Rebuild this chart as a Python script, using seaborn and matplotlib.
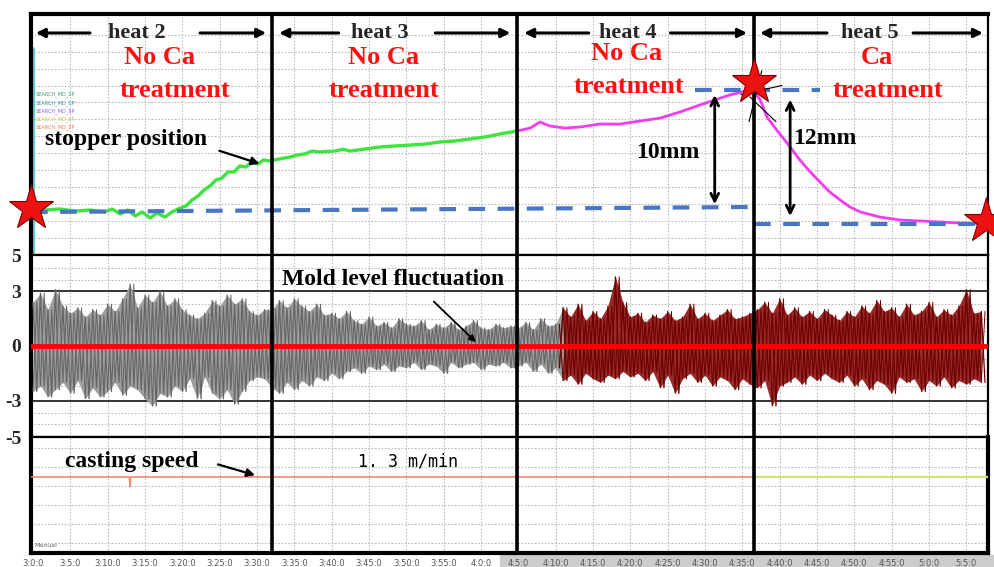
import numpy as np
import pandas as pd
import seaborn as sns
import matplotlib.pyplot as plt
from matplotlib.patches import Rectangle

# time axis: minutes after 3:00
heat_bounds = [32.0, 64.8, 96.6]
heat_names = ['heat 2', 'heat 3', 'heat 4', 'heat 5']
treat_line1 = ['No Ca', 'No Ca', 'No Ca', 'Ca']
treat_line2 = ['treatment'] * 4

# stopper position (mm), heats 2-3 (green) and heats 4-5 (magenta)
stop_t_a = [-0.3, 1.6, 3.6, 5.6, 7.6, 9.6, 10.6, 11.7, 12.7, 13.7, 14.6, 15.7, 16.6, 17.7,
            18.6, 19.7, 20.5, 21.3, 22.1, 22.9, 23.7, 24.5, 25.3, 26.1, 26.9, 27.7, 28.5,
            29.3, 30.1, 30.9, 31.7, 33.0, 34.4, 35.4, 36.4, 37.4, 38.4, 40.4, 41.5, 42.5,
            44.5, 46.5, 48.5, 50.5, 52.5, 54.5, 56.5, 58.5, 60.5, 62.5, 64.8]
stop_mm_a = [4.16, 3.98, 4.07, 3.89, 3.98, 3.81, 4.07, 3.63, 3.98, 3.45, 3.81, 3.27, 3.72, 3.36,
             3.81, 4.16, 4.34, 4.87, 5.22, 5.75, 6.11, 6.64, 6.81, 7.35, 7.35, 7.88, 7.79,
             8.23, 8.05, 8.41, 8.32, 8.50, 8.67, 8.85, 8.94, 9.20, 9.12, 9.20, 9.35, 9.20,
             9.38, 9.56, 9.65, 9.73, 9.82, 10.0, 10.09, 10.27, 10.44, 10.71, 10.97]
stop_t_b = [64.8, 66.6, 67.9, 69.2, 71.2, 73.3, 75.9, 78.6, 81.3, 84.0, 86.6, 89.3, 91.3, 93.3,
            95.4, 96.4, 97.4, 98.3, 99.6, 101.0, 102.7, 104.1, 105.4, 106.7, 108.1, 109.4,
            110.8, 113.4, 116.1, 118.8, 121.5, 124.1, 127.9]
stop_mm_b = [10.97, 11.24, 11.77, 11.42, 11.24, 11.33, 11.59, 11.59, 11.86, 12.12, 12.65, 13.27,
             13.72, 14.16, 14.51, 14.60, 13.72, 12.21, 11.06, 9.91, 8.41, 7.35, 6.46, 5.58,
             4.87, 4.25, 3.81, 3.36, 3.10, 3.01, 2.92, 2.83, 2.74]

# mold level fluctuation envelope (mm), one sample per minute from 3:00
mold_hi = [2.4, 2.9, 2.0, 3.1, 2.2, 1.8, 2.1, 1.6, 2.0, 1.7, 2.3, 1.9, 2.6, 3.4, 2.1, 2.8,
           2.4, 3.0, 2.2, 2.6, 2.0, 1.7, 1.5, 1.8, 2.5, 2.2, 2.8, 2.3, 2.6, 1.9, 1.7, 2.0,
           2.0, 2.5, 2.1, 2.6, 2.2, 1.9, 2.3, 1.7, 1.8, 1.5, 1.9, 1.4, 1.2, 1.6, 1.1, 1.3,
           1.0, 1.5, 1.2, 1.1, 1.4, 0.9, 1.2, 1.0, 1.3, 0.9, 1.1, 1.4, 1.0, 0.9, 1.2, 1.0,
           1.1, 1.0, 1.3, 0.9, 1.5, 1.1, 1.2, 2.1, 1.6, 2.3, 1.4, 1.9, 1.5, 2.2, 3.8, 2.4,
           1.6, 1.8, 1.3, 1.7, 1.5, 1.9, 1.4, 1.6, 2.3, 1.5, 1.8, 1.4, 1.7, 2.0, 1.5, 1.6,
           1.8, 2.0, 2.4, 1.8, 2.6, 1.7, 2.1, 1.6, 1.9, 1.5, 2.0, 1.7, 1.4, 1.9, 1.6, 2.2,
           1.8, 2.5, 1.9, 2.1, 1.6, 2.3, 1.7, 1.9, 2.4, 1.6, 2.0, 1.7, 2.2, 3.1, 1.8, 1.9]
mold_lo = [-2.5, -2.2, -2.8, -2.4, -2.0, -2.6, -1.9, -2.9, -2.3, -2.8, -2.5, -2.0, -2.7, -2.2,
           -2.4, -2.9, -3.3, -2.6, -2.8, -2.2, -2.5, -1.8, -2.9, -1.7, -2.6, -2.9, -2.4, -3.2,
           -2.5, -1.9, -1.7, -1.8, -2.3, -2.6, -2.0, -2.4, -1.9, -2.2, -1.7, -1.9, -1.5, -1.8,
           -1.4, -1.2, -1.5, -1.1, -1.3, -1.0, -1.4, -1.1, -1.2, -0.9, -1.3, -1.0, -1.1, -1.5,
           -0.9, -1.2, -1.0, -0.9, -1.3, -1.0, -1.1, -0.9, -1.2, -1.1, -0.9, -1.4, -1.0, -1.5,
           -1.2, -1.9, -1.6, -2.1, -1.5, -1.8, -2.0, -1.6, -1.8, -1.4, -1.7, -1.5, -1.9, -1.4,
           -2.3, -1.6, -2.6, -1.8, -1.5, -2.0, -1.6, -2.2, -1.7, -1.9, -2.4, -1.8, -2.1, -2.3,
           -1.9, -3.3, -2.2, -2.0, -1.7, -2.1, -1.6, -1.9, -1.5, -1.8, -2.0, -1.6, -2.2, -1.8,
           -2.4, -1.9, -2.1, -2.6, -1.7, -2.0, -1.8, -2.5, -1.9, -2.2, -1.7, -2.3, -1.9, -2.1,
           -1.8, -2.0]
red_from = 70.5  # trace turns dark red here

# casting speed (m/min)
speed_t = [-0.3, 12.9, 13.0, 13.1, 96.6]
speed_v = [1.3, 1.3, 1.2, 1.3, 1.3]
speed_t2 = [96.6, 128.0]
speed_v2 = [1.3, 1.3]

sns.set_style('white')
plt.rcParams['font.family'] = ['Liberation Serif', 'DejaVu Sans']

fig = plt.figure(figsize=(9.95, 5.67), dpi=100)
W, H = 995, 567
x0, x1 = 31, 988
def box(top, bot):
    return [x0 / W, 1 - bot / H, (x1 - x0) / W, (bot - top) / H]

ax1 = fig.add_axes(box(14, 255))
ax2 = fig.add_axes(box(255, 437))
ax3 = fig.add_axes(box(437, 553))
xlim = (-0.27, 127.9)

grid_kw = dict(color='#bdbdbd', ls=(0, (1.5, 1.5)), lw=0.8, zorder=0)
for ax in (ax1, ax2, ax3):
    ax.set_xlim(xlim)
    for t in range(5, 130, 5):
        ax.axvline(t, **grid_kw)
    for s in ax.spines.values():
        s.set_color('black')
        s.set_linewidth(1.6)
    for b in heat_bounds:
        ax.axvline(b, color='black', lw=2.6, zorder=6)
    ax.tick_params(length=0)
    ax.set_yticks([])
    ax.set_xticks([])
ax1.spines['top'].set_linewidth(3)
ax1.spines['left'].set_linewidth(3)
ax2.spines['left'].set_linewidth(3)
ax3.spines['left'].set_linewidth(3)
ax3.spines['bottom'].set_linewidth(3)
ax3.spines['right'].set_linewidth(3)

# ---------- top panel: stopper position ----------
ax1.set_ylim(0, 21.33)
for y in np.arange(1.5, 21, 1.5):
    ax1.axhline(y, **grid_kw)
ax1.plot([0.15, 0.15], [0, 18.3], color='#40c8c8', lw=1.2, zorder=1)

sns.lineplot(x=stop_t_a, y=stop_mm_a, ax=ax1, color='#3de43d', lw=2.4, sort=False,
             estimator=None, zorder=3)
sns.lineplot(x=stop_t_b, y=stop_mm_b, ax=ax1, color='#f23cf2', lw=2.0, sort=False,
             estimator=None, zorder=3)

dash_kw = dict(color='#4a74c4', lw=3, ls=(0, (4, 3)), zorder=4)
ax1.plot([-0.27, 96.6], [3.8, 4.25], **dash_kw)
ax1.plot([96.6, 127.9], [2.74, 2.74], **dash_kw)
ax1.plot([88.7, 105.4], [14.6, 14.6], **dash_kw)

# thin crossing lines at the peak
ax1.plot([95.9, 97.6], [11.8, 16.3], color='black', lw=0.8, zorder=5)
ax1.plot([96.0, 99.5], [14.0, 11.8], color='black', lw=0.8, zorder=5)
ax1.plot([94.8, 100.3], [14.2, 15.0], color='black', lw=0.8, zorder=5)

star_kw = dict(marker='*', ms=34, mfc='#ee1111', mec='#7a0000', mew=0.8, ls='none',
               clip_on=False, zorder=8)
ax1.plot([-0.27], [4.16], **star_kw)
ax1.plot([96.6], [15.3], **star_kw)
ax1.plot([127.6], [3.0], **star_kw)

dbl = dict(arrowstyle='<->', color='black', lw=2, mutation_scale=14)
ax1.annotate('', xy=(91.3, 14.4), xytext=(91.3, 4.25), arrowprops=dbl, zorder=7)
ax1.annotate('', xy=(101.4, 14.0), xytext=(101.4, 3.2), arrowprops=dbl, zorder=7)
bold = dict(fontweight='bold', color='black', fontsize=17)
ax1.text(85.0, 9.1, '10mm', ha='center', va='center', **bold)
ax1.text(106.0, 10.35, '12mm', ha='center', va='center', **bold)

ax1.text(1.6, 10.2, 'stopper position', ha='left', va='center', zorder=9, **bold)
ax1.annotate('', xy=(30.7, 8.0), xytext=(24.6, 9.3),
             arrowprops=dict(arrowstyle='-|>', color='black', lw=1.6, mutation_scale=12))

# heat headers
hdr_y = 19.65
hdr = [(13.9, 0.0, 8.0, 22.0, 31.6), (46.5, 32.6, 41.3, 53.5, 64.3),
       (79.7, 65.4, 74.8, 85.0, 96.0), (112.1, 97.0, 106.7, 117.5, 127.6)]
for (c, l0, l1, r0, r1), name in zip(hdr, heat_names):
    ax1.text(c, hdr_y, name, ha='center', va='center', fontweight='bold', fontsize=16)
    ax1.annotate('', xy=(l0, hdr_y), xytext=(l1, hdr_y),
                 arrowprops=dict(arrowstyle='-|>', color='black', lw=2.2, mutation_scale=13))
    ax1.annotate('', xy=(r1, hdr_y), xytext=(r0, hdr_y),
                 arrowprops=dict(arrowstyle='-|>', color='black', lw=2.2, mutation_scale=13))

red_kw = dict(ha='center', va='center', color='#ff1010', fontweight='bold', fontsize=19,
              zorder=9)
for c1, c2, ya, yb, s1, s2 in zip([16.9, 47.0, 79.5, 113.0], [19.0, 47.0, 79.8, 114.5],
                                  [17.5, 17.5, 17.85, 17.5], [14.6, 14.6, 14.95, 14.6],
                                  treat_line1, treat_line2):
    ax1.text(c1, ya, s1, **red_kw)
    ax1.text(c2, yb, s2, **red_kw)

legend_names = ['SEARCH_MD_SP'] * 5
legend_cols = ['#3aa070', '#3a9aa0', '#8a60e0', '#c8c850', '#f07a5a']
for i, (nm, cl) in enumerate(zip(legend_names, legend_cols)):
    ax1.text(0.3, 14.2 - 0.72 * i, nm, color=cl, fontsize=3.6, family='DejaVu Sans',
             va='center')

# ---------- middle panel: mold level ----------
ax2.set_ylim(-5, 5)
for y in [4.3, 3.6, 2.3, 1.5, 0.8, -0.7, -1.4, -2.2, -3.7, -4.3]:
    ax2.axhline(y, **grid_kw)
for y in [3, -3]:
    ax2.axhline(y, color='#222222', lw=1.3, zorder=1)

mt = np.arange(len(mold_hi))
hi = np.array(mold_hi)
lo = np.array(mold_lo)
g = mt <= red_from + 1
r = mt >= red_from
ax2.fill_between(mt[g], lo[g], hi[g], color='#9e9e9e', lw=0, zorder=2)
ax2.fill_between(mt[r], lo[r], hi[r], color='#9a2a2a', lw=0, zorder=2)

# trace drawn hi->lo and lo->hi so the strokes cross like a dense signal
zz_a = pd.DataFrame({'t': np.ravel(np.column_stack([mt, mt + 0.5])),
                     'v': np.ravel(np.column_stack([mold_hi, mold_lo]))})
zz_b = pd.DataFrame({'t': np.ravel(np.column_stack([mt, mt + 0.5])),
                     'v': np.ravel(np.column_stack([mold_lo, mold_hi]))})
for zz, lw in [(zz_a, 0.9), (zz_b, 0.7)]:
    gray = zz[zz['t'] <= red_from + 0.5]
    red = zz[zz['t'] >= red_from]
    sns.lineplot(data=gray, x='t', y='v', ax=ax2, color='#666666', lw=lw, sort=False,
                 estimator=None, zorder=3)
    sns.lineplot(data=red, x='t', y='v', ax=ax2, color='#6a0000', lw=lw, sort=False,
                 estimator=None, zorder=3)
ax2.axhline(0, color='#ff0000', lw=3.5, zorder=5)

ax2.set_yticks([5, 3, 0, -3, -5])
ax2.set_yticklabels(['5', '3', '0', '-3', '-5'], fontweight='bold', fontsize=14)
ax2.tick_params(axis='y', pad=7)
ax2.set_ylabel('')
ax2.set_xlabel('')

ax2.text(33.3, 3.67, 'Mold level fluctuation', ha='left', va='center', zorder=9, **bold)
ax2.annotate('', xy=(59.6, 0.1), xytext=(53.4, 2.55),
             arrowprops=dict(arrowstyle='-|>', color='black', lw=1.3, mutation_scale=10),
             zorder=9)

# ---------- bottom panel: casting speed ----------
ax3.set_ylim(0.5, 1.72)
for y in [0.6, 0.8, 1.0, 1.2, 1.4, 1.6]:
    ax3.axhline(y, **grid_kw)
sns.lineplot(x=speed_t, y=speed_v, ax=ax3, color='#f58a74', lw=1.2, sort=False,
             estimator=None, zorder=3)
sns.lineplot(x=speed_t2, y=speed_v2, ax=ax3, color='#d4e070', lw=1.6, zorder=3)
ax3.text(4.3, 1.46, 'casting speed', ha='left', va='center', **bold)
ax3.annotate('', xy=(30.1, 1.31), xytext=(24.4, 1.44),
             arrowprops=dict(arrowstyle='-|>', color='black', lw=1.6, mutation_scale=12))
ax3.text(50.2, 1.46, '1. 3 m/min', ha='center', va='center', fontsize=12,
         family='DejaVu Sans Mono', color='black')
ax3.text(0.2, 0.58, 'Manual', fontsize=4.5, color='#666666', family='DejaVu Sans',
         va='center')

ticks = list(range(0, 130, 5))
labels = [f'{3 + t // 60}:{t % 60}:0' for t in ticks]
ax3.set_xticks(ticks)
ax3.set_xticklabels(labels, fontsize=6, color='#555555', family='DejaVu Sans')
ax3.tick_params(axis='x', pad=4)
ax3.set_xlabel('')
ax3.set_ylabel('')
ax1.set_xlabel('')
ax1.set_ylabel('')

fig.patches.append(Rectangle((500 / W, 0), 1 - 500 / W, 12 / H, transform=fig.transFigure,
                             color='#cccccc', zorder=-1))

fig.savefig('out.png', dpi=100)
